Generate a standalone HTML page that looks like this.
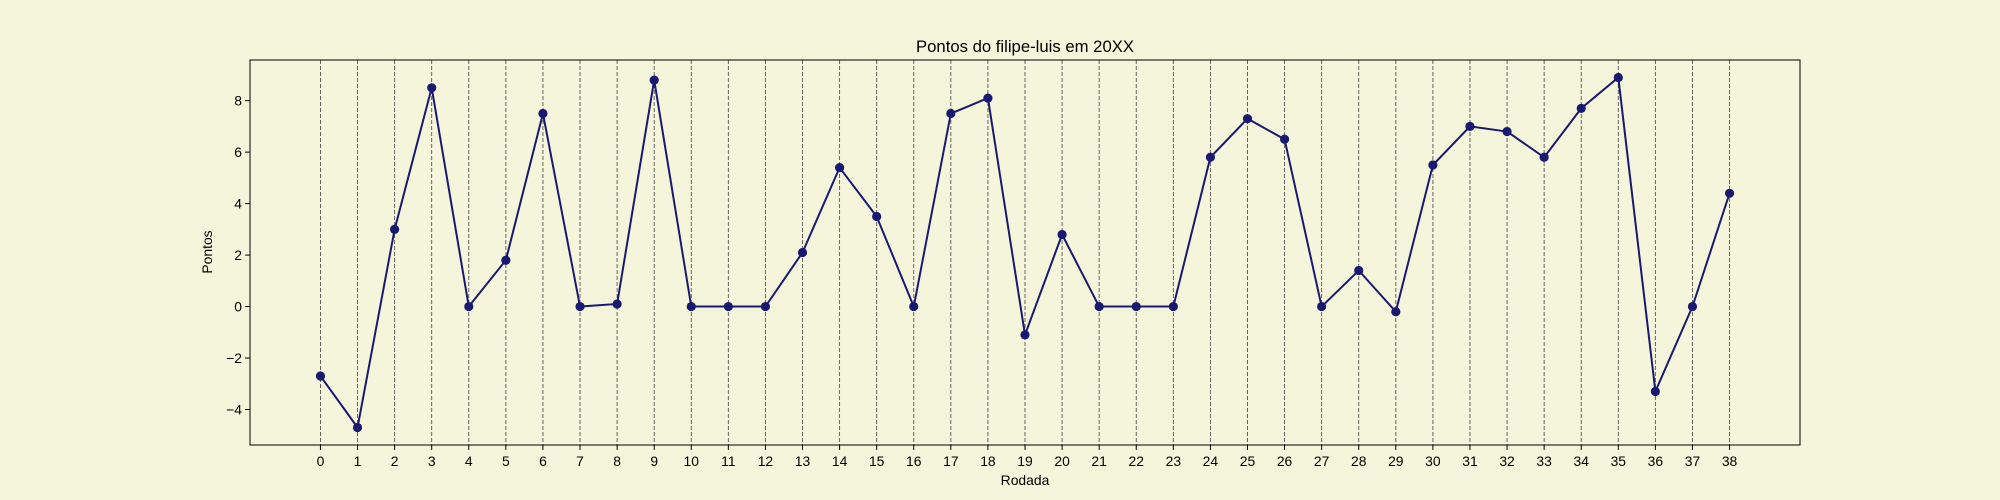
<!DOCTYPE html>
<html><head><meta charset="utf-8"><style>
html,body{margin:0;padding:0;background:#f5f5dc;}
svg{display:block;font-family:"Liberation Sans","DejaVu Sans",sans-serif;}
</style></head><body>
<svg id="chart" width="2000" height="500" xmlns="http://www.w3.org/2000/svg">
<rect x="0" y="0" width="2000" height="500" fill="#f5f5dc"/>
<text x="1025" y="52" text-anchor="middle" font-size="16.7" fill="#000">Pontos do filipe-luis em 20XX</text>
<text x="1025" y="485" text-anchor="middle" font-size="13.9" fill="#000">Rodada</text>
<text x="0" y="0" transform="translate(212,252) rotate(-90)" text-anchor="middle" font-size="13.9" fill="#000">Pontos</text>
<g id="grid"></g><g id="line"></g><g id="pts"></g><g id="xt"></g><g id="yt"></g>
<rect x="250" y="60" width="1550" height="385" fill="none" stroke="#000" stroke-width="1"/>
</svg>
<script>
const rounds = [0,1,2,3,4,5,6,7,8,9,10,11,12,13,14,15,16,17,18,19,20,21,22,23,24,25,26,27,28,29,30,31,32,33,34,35,36,37,38];
const points = [-2.7,-4.7,3.0,8.5,0,1.8,7.5,0,0.1,8.8,0,0,0,2.1,5.4,3.5,0,7.5,8.1,-1.1,2.8,0,0,0,5.8,7.3,6.5,0,1.4,-0.2,5.5,7.0,6.8,5.8,7.7,8.9,-3.3,0,4.4];
const yTicks = [-4,-2,0,2,4,6,8];
const NS="http://www.w3.org/2000/svg";
const L=250,R=1800,T=60,B=445;
const xmin0=Math.min(...rounds),xmax0=Math.max(...rounds),xm=(xmax0-xmin0)*0.05;
const ymin0=Math.min(...points),ymax0=Math.max(...points),ym=(ymax0-ymin0)*0.05;
const X=v=>L+(v-(xmin0-xm))/((xmax0-xmin0)+2*xm)*(R-L);
const Y=v=>B-(v-(ymin0-ym))/((ymax0-ymin0)+2*ym)*(B-T);
function mk(tag,attrs,parent){const e=document.createElementNS(NS,tag);for(const k in attrs)e.setAttribute(k,attrs[k]);document.getElementById(parent).appendChild(e);return e;}
rounds.forEach(r=>{
  const g=mk('line',{x1:X(r),x2:X(r),y1:T,y2:B,stroke:'#555','stroke-width':0.9,'stroke-dasharray':'4,2'},'grid');
  
  
  const t=mk('line',{x1:X(r),x2:X(r),y1:B,y2:B+4.9,stroke:'#000'},'xt');
  
  
  const l=mk('text',{x:X(r),y:B+21,'text-anchor':'middle','font-size':13.9},'xt');
  l.textContent=r;
  
  
});
yTicks.forEach(v=>{
  const t=mk('line',{x1:L-4.9,x2:L,y1:Y(v),y2:Y(v),stroke:'#000'},'yt');
  
  
  const l=mk('text',{x:L-8,y:Y(v)+5,'text-anchor':'end','font-size':13.9},'yt');
  l.textContent=(v<0?'\u2212'+(-v):v);
  
  
});
const pl=mk('polyline',{points:rounds.map((r,i)=>X(r)+','+Y(points[i])).join(' '),fill:'none',stroke:'#191970','stroke-width':2},'line');


rounds.forEach((r,i)=>{
  const c=mk('circle',{cx:X(r),cy:Y(points[i]),r:4.6,fill:'#191970'},'pts');
  
  
});
</script>
</body></html>
